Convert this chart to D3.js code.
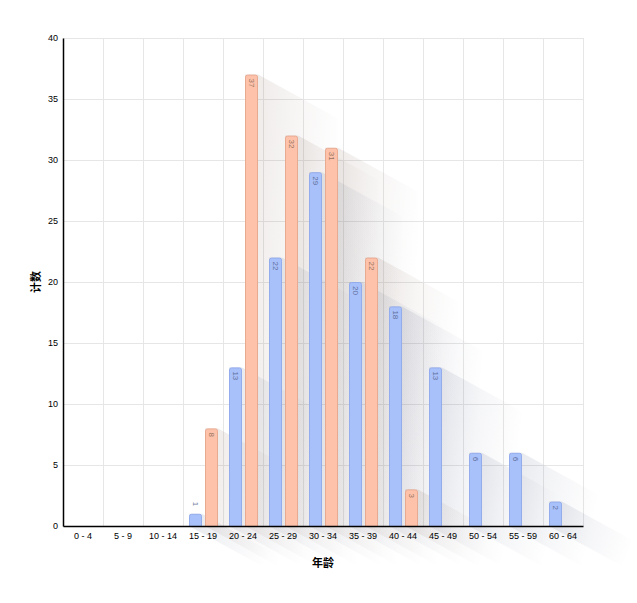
<!DOCTYPE html>
<html><head><meta charset="utf-8">
<script src="https://cdn.jsdelivr.net/npm/d3@7"></script>
<style>body{margin:0;background:#fff}svg{display:block}</style>
</head><body>
<script>
const categories = ["0 - 4","5 - 9","10 - 14","15 - 19","20 - 24","25 - 29","30 - 34","35 - 39","40 - 44","45 - 49","50 - 54","55 - 59","60 - 64"];
const seriesA = [0,0,0,1,13,22,29,20,18,13,6,6,2];
const seriesB = [0,0,0,8,37,32,31,22,3,0,0,0,0];
const yTicks = [0,5,10,15,20,25,30,35,40];
const xTitle = "年龄", yTitle = "计数";

const W = 637, H = 603;
const m = {l:63, r:54, t:38, b:77};
const svg = d3.select("body").append("svg").attr("width",W).attr("height",H);
const x = d3.scaleBand().domain(categories).range([m.l, W-m.r]);
const y = d3.scaleLinear().domain([0,40]).range([H-m.b, m.t]);
const bw = 13, gap = 3, pad = 6;

const defs = svg.append("defs");
const cols = [{fill:"#a9c1fa", stroke:"#93acec", sh:"#3a4670", lab:"#4a5680"},{fill:"#fdc2a9", stroke:"#e9aa92", sh:"#6a4a3a", lab:"#7a5a4a"}];
cols.forEach((c,i)=>{
  const g = defs.append("linearGradient").attr("id","sh"+i).attr("x1","0").attr("y1","0").attr("x2","1").attr("y2","0.3");
  g.append("stop").attr("offset","0").attr("stop-color",c.sh).attr("stop-opacity",0.13);
  g.append("stop").attr("offset","0.45").attr("stop-color",c.sh).attr("stop-opacity",0.06);
  g.append("stop").attr("offset","1").attr("stop-color",c.sh).attr("stop-opacity",0);
});

// grid
const grid = svg.append("g");
grid.selectAll("line.h").data(yTicks).join("line")
  .attr("x1",m.l).attr("x2",W-m.r).attr("y1",d=>y(d)).attr("y2",d=>y(d))
  .attr("stroke","#e6e6e6").attr("stroke-width",1).attr("shape-rendering","crispEdges");
const vlines = categories.map(c=>x(c)).concat([W-m.r]);
grid.selectAll("line.v").data(vlines).join("line")
  .attr("x1",d=>d).attr("x2",d=>d).attr("y1",m.t).attr("y2",H-m.b)
  .attr("stroke","#e6e6e6").attr("stroke-width",1).attr("shape-rendering","crispEdges");

const data = [];
categories.forEach((c,i)=>{
  data.push({c, v:seriesA[i], s:0});
  data.push({c, v:seriesB[i], s:1});
});
const bars = data.filter(d=>d.v>0);
const bx = d => x(d.c) + pad + d.s*(bw+gap);

// shadows
const L = 80, k = 0.55;
svg.append("g").selectAll("path").data(bars).join("path")
  .attr("d", d=>{
    const x0 = bx(d), x1 = x0+bw, yt = y(d.v), yb = y(0);
    return `M${x0},${yt}L${x1},${yt}L${x1+L},${yt+k*L}L${x1+L},${yb+k*L}L${x0+L},${yb+k*L}L${x0},${yb}Z`;
  })
  .attr("fill", d=>`url(#sh${d.s})`);

// bars with rounded top
svg.append("g").selectAll("path").data(bars).join("path")
  .attr("d", d=>{
    const x0 = bx(d)+0.5, x1 = x0+bw-1, yt = y(d.v)+0.5, yb = y(0), r = 2;
    return `M${x0},${yb}L${x0},${yt+r}Q${x0},${yt} ${x0+r},${yt}L${x1-r},${yt}Q${x1},${yt} ${x1},${yt+r}L${x1},${yb}`;
  })
  .attr("fill", d=>cols[d.s].fill).attr("stroke", d=>cols[d.s].stroke).attr("stroke-width",1);

// labels
svg.append("g").selectAll("text").data(bars).join("text")
  .attr("transform", d=>{
    const cx = bx(d)+bw/2;
    const inside = (y(0)-y(d.v)) > 20;
    const yy = inside ? y(d.v)+4 : y(d.v)-12;
    return `translate(${cx},${yy}) rotate(90)`;
  })
  .attr("dy","0.35em")
  .attr("font-family","Liberation Sans, Arial, sans-serif").attr("font-size",8)
  .attr("fill", d=>cols[d.s].lab).attr("fill-opacity",0.8)
  .text(d=>d.v);

// axes
const yAxis = svg.append("g").attr("transform",`translate(${m.l},0)`)
  .call(d3.axisLeft(y).tickValues(yTicks).tickSize(0).tickPadding(5));
yAxis.select(".domain").attr("stroke","#000").attr("stroke-width",1.5);
yAxis.selectAll("text").attr("font-family","Liberation Sans, Arial, sans-serif").attr("font-size",9).attr("fill","#000");

const xAxis = svg.append("g").attr("transform",`translate(0,${H-m.b})`)
  .call(d3.axisBottom(x).tickSize(0).tickPadding(7));
xAxis.select(".domain").attr("stroke","#000").attr("stroke-width",1.5);
xAxis.selectAll("text").attr("font-family","Liberation Sans, Arial, sans-serif").attr("font-size",9).attr("fill","#000");

svg.append("text").attr("x", (m.l+W-m.r)/2).attr("y", 567).attr("text-anchor","middle")
  .attr("font-family","Noto Sans CJK SC, sans-serif").attr("font-size",11).attr("font-weight","bold").text(xTitle);
svg.append("text").attr("transform",`translate(40,${(m.t+H-m.b)/2}) rotate(-90)`).attr("text-anchor","middle")
  .attr("font-family","Noto Sans CJK SC, sans-serif").attr("font-size",11).attr("font-weight","bold").text(yTitle);
</script>
</body></html>
